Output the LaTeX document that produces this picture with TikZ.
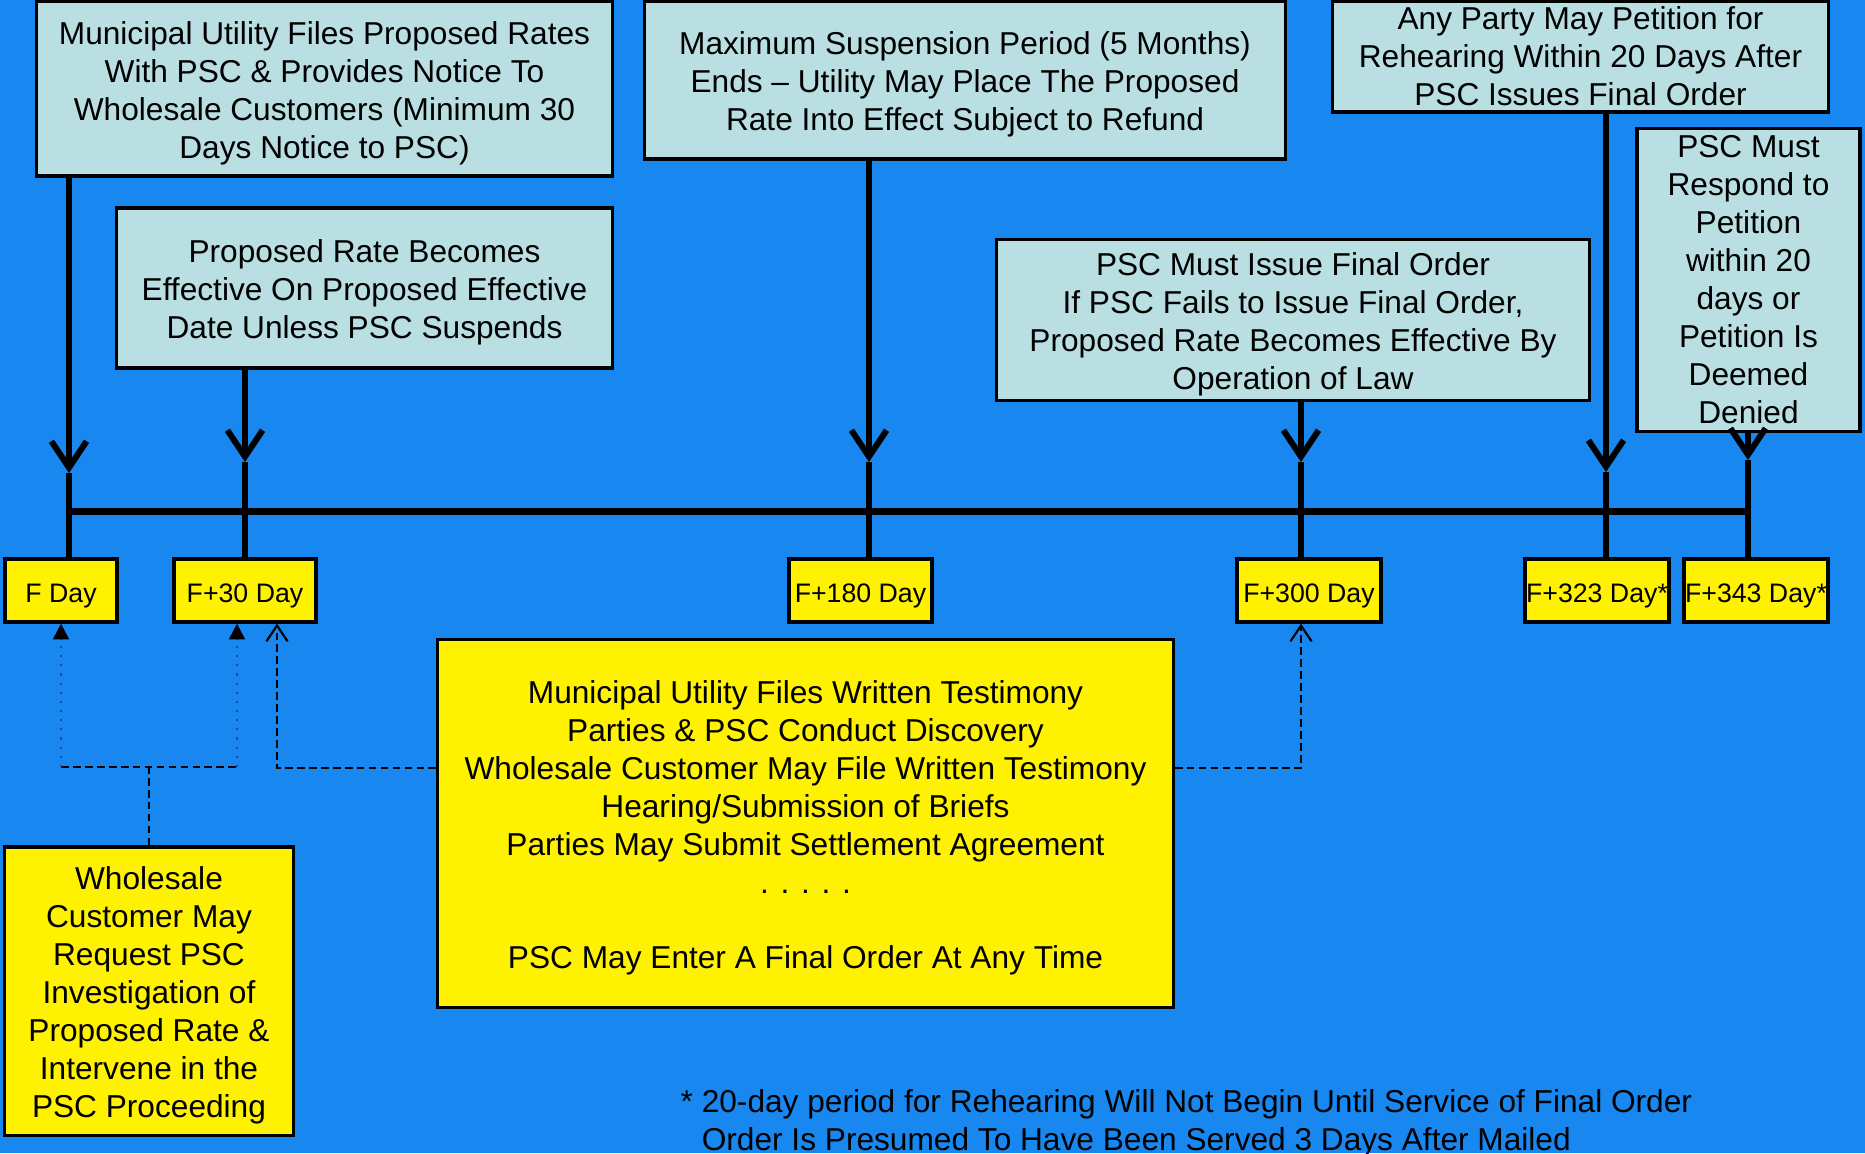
\documentclass[tikz,border=0pt]{standalone}
\usepackage{fontspec}
\setmainfont{Liberation Sans}
\usetikzlibrary{arrows,arrows.meta}
\definecolor{bgblue}{RGB}{24,135,240}
\definecolor{boxcyan}{RGB}{185,223,227}
\definecolor{linkblue}{RGB}{25,75,150}

\begin{document}
\begin{tikzpicture}[x=0.01cm, y=-0.01cm]
    \tikzset{event/.style = {draw, line width=0.9pt, fill=boxcyan, align=center, inner sep=0pt, font=\fontsize{9}{10.8}\selectfont}}
    \tikzset{day/.style = {draw, line width=0.9pt, fill=yellow, inner sep=0pt, minimum height=0.63cm, text height=6.6pt, text depth=0pt, font=\fontsize{7.6}{9}\selectfont}}
    \tikzset{note/.style = {event, fill=yellow}}
    \tikzset{stem/.style = {line width=1.7pt, >={Straight Barb[length=7.5pt, width=10pt]}}}
    \tikzset{timeline/.style = {line width=2pt}}
    \tikzset{dashlink/.style = {line width=0.6pt, dash pattern=on 2.2pt off 1.2pt, >={Straight Barb[length=4.5pt, width=6pt]}}}
    \tikzset{dotlink/.style = {linkblue, line width=0.6pt, dotted, >={Triangle[length=4.5pt, width=4.5pt, black]}}}
    \newcommand{\lowstrut}{\rule{0pt}{9pt}}

    % background
    \fill[bgblue] (0,0) rectangle (1865,1153);
    \useasboundingbox (0,0) rectangle (1865,1153);

    % events
    \node[event, minimum width=5.75cm, minimum height=1.75cm] (filebox) at (324.5,88.5) {\lowstrut Municipal Utility Files Proposed Rates\\With PSC \& Provides Notice To\\Wholesale Customers (Minimum 30\\Days Notice to PSC)};
    \node[event, minimum width=4.95cm, minimum height=1.6cm] (effbox) at (364.5,288) {\lowstrut Proposed Rate Becomes\\Effective On Proposed Effective\\Date Unless PSC Suspends};
    \node[event, minimum width=6.4cm, minimum height=1.58cm] (suspbox) at (965,80) {\lowstrut Maximum Suspension Period (5 Months)\\Ends -- Utility May Place The Proposed\\Rate Into Effect Subject to Refund};
    \node[event, minimum width=5.92cm, minimum height=1.61cm] (orderbox) at (1293,320) {\lowstrut PSC Must Issue Final Order\\If PSC Fails to Issue Final Order,\\Proposed Rate Becomes Effective By\\Operation of Law};
    \node[event, minimum width=4.95cm, minimum height=1.11cm] (rehearbox) at (1580.5,56.5) {Any Party May Petition for\\Rehearing Within 20 Days After\\PSC Issues Final Order};
    \node[event, minimum width=2.23cm, minimum height=3.03cm] (respbox) at (1748.5,280) {PSC Must\\Respond to\\Petition\\within 20\\days or\\Petition Is\\Deemed\\Denied};

    % days
    \node[day, minimum width=1.12cm] (fday) at (61,590.5) {F Day};
    \node[day, minimum width=1.42cm] (f30) at (245,590.5) {F+30 Day};
    \node[day, minimum width=1.43cm] (f180) at (860.5,590.5) {F+180 Day};
    \node[day, minimum width=1.44cm] (f300) at (1309,590.5) {F+300 Day};
    \node[day, minimum width=1.44cm] (f323) at (1597,590.5) {F+323 Day*};
    \node[day, minimum width=1.44cm] (f343) at (1756,590.5) {F+343 Day*};

    % lower notes
    \node[note, minimum width=7.35cm, minimum height=3.67cm] (hearing) at (805.5,823.5) {\lowstrut Municipal Utility Files Written Testimony\\Parties \& PSC Conduct Discovery\\Wholesale Customer May File Written Testimony\\Hearing/Submission of Briefs\\Parties May Submit Settlement Agreement\\. . . . .\\[10.8pt]PSC May Enter A Final Order At Any Time};
    \node[note, minimum width=2.88cm, minimum height=2.88cm] (wsale) at (149,991) {\lowstrut Wholesale\\Customer May\\Request PSC\\Investigation of\\Proposed Rate \&\\Intervene in the\\PSC Proceeding};
    \node[anchor=north west, inner sep=0pt, align=left, font=\fontsize{9}{10.8}\selectfont] (foot) at (680,1089) {* 20-day period for Rehearing Will Not Begin Until Service of Final Order\\\phantom{* }Order Is Presumed To Have Been Served 3 Days After Mailed};

    % arrow tips on the timeline
    \coordinate (t0) at (69,473);
    \coordinate (t1) at (245,462);
    \coordinate (t2) at (869,462);
    \coordinate (t3) at (1301,462);
    \coordinate (t4) at (1606,472);
    \coordinate (t5) at (1748,460);
    \coordinate (tl) at (0,511);

    % stems
    \draw[stem,->] (filebox.south -| t0) -- (t0);
    \draw[stem,->] (effbox.south -| t1) -- (t1);
    \draw[stem,->] (suspbox.south -| t2) -- (t2);
    \draw[stem,->] (orderbox.south -| t3) -- (t3);
    \draw[stem,->] (rehearbox.south -| t4) -- (t4);
    \draw[stem,->] (respbox.south -| t5) -- (t5);

    \draw[stem] (t0) -- (t0 |- fday.north);
    \draw[stem] (t1) -- (t1 |- f30.north);
    \draw[stem] (t2) -- (t2 |- f180.north);
    \draw[stem] (t3) -- (t3 |- f300.north);
    \draw[stem] (t4) -- (t4 |- f323.north);
    \draw[stem] (t5) -- (t5 |- f343.north);

    \draw[timeline] (t0 |- tl) -- (t5 |- tl);

    % links below
    \coordinate (wj) at (149,767);
    \coordinate (wa) at (61,767);
    \coordinate (wb) at (237,767);
    \coordinate (ca) at (277,768);
    \coordinate (cb) at (1301,768);

    \draw[dashlink] (wsale.north) -- (wj);
    \draw[dashlink] (wa) -- (wb);
    \draw[dotlink,->] (wa) -- (wa |- fday.south);
    \draw[dotlink,->] (wb) -- (wb |- f30.south);
    \draw[dashlink,->] (hearing.west |- ca) -- (ca) -- (ca |- f30.south);
    \draw[dashlink,->] (hearing.east |- cb) -- (cb) -- (cb |- f300.south);
\end{tikzpicture}
\end{document}
